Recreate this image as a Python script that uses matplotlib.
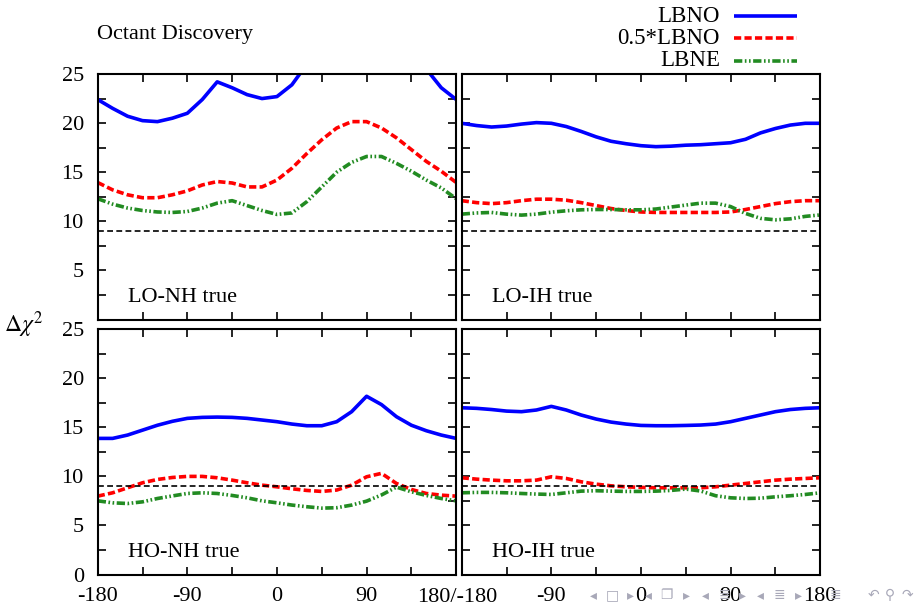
import numpy as np
import matplotlib
matplotlib.use("Agg")
import matplotlib.pyplot as plt
from matplotlib.lines import Line2D
from matplotlib.ticker import MultipleLocator, FuncFormatter

plt.rcParams['font.family'] = ['Liberation Serif', 'DejaVu Serif']
plt.rcParams['mathtext.fontset'] = 'stix'

# delta_CP (deg), common grid
dcp = [-180, -165, -150, -135, -120, -105, -90, -75, -60, -45, -30, -15, 0,
       15, 30, 45, 60, 75, 90, 105, 120, 135, 150, 165, 180]

# LO-NH true
lonh_lbno = [22.4, 21.5, 20.7, 20.25, 20.15, 20.5, 21.0, 22.4, 24.2, 23.6, 22.9, 22.5, 22.7,
             23.9, 26.0, 28.0, 29.5, 30.5, 31.0, 30.5, 29.0, 27.5, 25.5, 23.6, 22.4]
lonh_half = [13.95, 13.2, 12.7, 12.4, 12.4, 12.7, 13.1, 13.7, 14.05, 13.9, 13.5, 13.5, 14.2,
             15.4, 16.9, 18.3, 19.5, 20.15, 20.15, 19.5, 18.5, 17.3, 16.1, 15.1, 13.95]
lonh_lbne = [12.3, 11.75, 11.35, 11.1, 10.95, 10.9, 11.0, 11.35, 11.85, 12.1, 11.6, 11.1, 10.7,
             10.85, 12.0, 13.5, 15.0, 16.0, 16.6, 16.6, 15.9, 15.1, 14.2, 13.4, 12.3]

# LO-IH true
loih_lbno = [19.98, 19.75, 19.6, 19.7, 19.9, 20.05, 19.98, 19.65, 19.15, 18.6, 18.15, 17.9, 17.7,
             17.6, 17.65, 17.75, 17.8, 17.9, 18.0, 18.35, 19.0, 19.45, 19.8, 19.98, 19.98]
loih_half = [12.1, 11.9, 11.8, 11.9, 12.1, 12.25, 12.25, 12.15, 11.9, 11.6, 11.3, 11.1, 10.95,
             10.9, 10.9, 10.9, 10.9, 10.9, 10.95, 11.2, 11.5, 11.8, 12.0, 12.1, 12.1]
loih_lbne = [10.73, 10.85, 10.9, 10.73, 10.63, 10.73, 10.93, 11.07, 11.17, 11.2, 11.2, 11.17, 11.17,
             11.25, 11.45, 11.65, 11.85, 11.85, 11.5, 10.8, 10.3, 10.15, 10.25, 10.5, 10.65]

# HO-NH true
honh_lbno = [13.86, 13.86, 14.2, 14.7, 15.2, 15.6, 15.9, 16.0, 16.03, 16.0, 15.9, 15.73, 15.56,
             15.32, 15.15, 15.15, 15.56, 16.58, 18.15, 17.3, 16.07, 15.2, 14.64, 14.2, 13.86]
honh_half = [7.98, 8.32, 8.83, 9.34, 9.68, 9.88, 9.99, 9.99, 9.85, 9.61, 9.34, 9.1, 8.93,
             8.73, 8.56, 8.46, 8.6, 9.1, 9.95, 10.3, 9.27, 8.66, 8.25, 8.08, 7.98]
honh_lbne = [7.5, 7.3, 7.23, 7.4, 7.74, 8.0, 8.25, 8.32, 8.25, 8.05, 7.81, 7.5, 7.3,
             7.07, 6.9, 6.76, 6.8, 7.07, 7.47, 8.1, 8.9, 8.42, 8.05, 7.74, 7.5]

# HO-IH true
hoih_lbno = [16.98, 16.92, 16.8, 16.64, 16.58, 16.75, 17.12, 16.75, 16.24, 15.83, 15.52, 15.32, 15.18,
             15.15, 15.15, 15.18, 15.22, 15.32, 15.56, 15.9, 16.24, 16.58, 16.8, 16.92, 16.98]
hoih_half = [9.85, 9.71, 9.61, 9.54, 9.54, 9.61, 9.95, 9.78, 9.44, 9.2, 9.03, 8.93, 8.87,
             8.83, 8.83, 8.83, 8.83, 8.93, 9.1, 9.27, 9.44, 9.61, 9.71, 9.78, 9.85]
hoih_lbne = [8.32, 8.36, 8.36, 8.32, 8.25, 8.19, 8.15, 8.32, 8.49, 8.53, 8.49, 8.46, 8.46,
             8.49, 8.56, 8.7, 8.5, 8.02, 7.81, 7.74, 7.77, 7.91, 8.02, 8.15, 8.32]

panels = [
    ("LO-NH true", lonh_lbno, lonh_half, lonh_lbne),
    ("LO-IH true", loih_lbno, loih_half, loih_lbne),
    ("HO-NH true", honh_lbno, honh_half, honh_lbne),
    ("HO-IH true", hoih_lbno, hoih_half, hoih_lbne),
]
series_names = ["LBNO", "0.5*LBNO", "LBNE"]
threshold = 9

blue = '#0000ff'
red = '#ff0000'
green = '#228b22'
styles = [
    dict(color=blue, lw=2.6, ls='-'),
    dict(color=red, lw=2.6, ls=(0, (2.0, 0.9))),
    dict(color=green, lw=2.6, ls=(0, (2.3, 0.7, 0.45, 0.7, 0.45, 0.7))),
]

W, H = 918, 607
fig = plt.figure(figsize=(W / 100, H / 100), dpi=100)

lefts = [97.7, 461.7]
tops = [74, 329]
pw, ph = 358.5, 245.5

fs = 16
for k, (lab, a, b, c) in enumerate(panels):
    r, col = divmod(k, 2)
    ax = fig.add_axes([lefts[col] / W, 1 - (tops[r] + ph) / H, pw / W, ph / H])
    for ys, st in zip([a, b, c], styles):
        ax.plot(dcp, ys, solid_capstyle='butt', dash_capstyle='butt',
                solid_joinstyle='round', **st)
    ax.axhline(threshold, color='black', lw=1.2, ls=(0, (3.5, 2)))
    ax.set_xlim(-180, 180)
    ax.set_ylim(0, 25)
    ax.xaxis.set_major_locator(MultipleLocator(45))
    ax.yaxis.set_major_locator(MultipleLocator(2.5))
    ax.tick_params(direction='in', length=6, width=1.2, top=True, right=True, labelsize=fs)
    ax.tick_params(axis='y', pad=10)
    ax.tick_params(axis='x', pad=9)
    for s in ax.spines.values():
        s.set_linewidth(1.5)
    if r == 1:
        if col == 0:
            ax.xaxis.set_major_formatter(FuncFormatter(
                lambda v, p: '%d' % v if (v % 90 == 0 and v < 180) else ''))
        else:
            ax.xaxis.set_major_formatter(FuncFormatter(
                lambda v, p: '%d' % v if (v % 90 == 0 and v > -180) else ''))
    else:
        ax.set_xticklabels([])
    if col == 0:
        if r == 0:
            ax.yaxis.set_major_formatter(FuncFormatter(
                lambda v, p: '%d' % v if (v % 5 == 0 and v > 0) else ''))
        else:
            ax.yaxis.set_major_formatter(FuncFormatter(
                lambda v, p: '%d' % v if v % 5 == 0 else ''))
    else:
        ax.set_yticklabels([])
    ax.text(0.085, 0.09, lab, transform=ax.transAxes, fontsize=fs, va='center', ha='left')

# x label spanning the two panels
fig.text(457 / W, 1 - 597 / H, "180/-180", fontsize=fs, ha='center', va='center')

# y label
fig.text(24 / W, 1 - 325 / H, r'$\Delta\chi^2$', fontsize=17, ha='center', va='center')

# title
fig.text(97 / W, 1 - 35 / H, "Octant Discovery", fontsize=fs, ha='left', va='center')

# legend
leg_y = [16, 38, 61]
for name, st, yy in zip(series_names, styles, leg_y):
    fig.text(720 / W, 1 - yy / H, name, fontsize=fs + 0.5, ha='right', va='center')
    fig.add_artist(Line2D([734 / W, 797 / W], [1 - yy / H, 1 - yy / H],
                          transform=fig.transFigure, solid_capstyle='butt',
                          dash_capstyle='butt', **st))

# beamer navigation symbols
nav = [("◂", 593), ("□", 612), ("▸", 630), ("◂", 648), ("❐", 666), ("▸", 686),
       ("◂", 705), ("≣", 724), ("▸", 742), ("◂", 760), ("≣", 779), ("▸", 798),
       ("≣", 835), ("↶", 873), ("⚲", 890), ("↷", 907)]
for sym, px in nav:
    fig.text(px / W, 1 - 595 / H, sym, fontsize=10, color='#a8a8b8',
             ha='center', va='center', family=['DejaVu Sans', 'Noto Sans CJK JP'])

fig.savefig("out.png", dpi=100)
